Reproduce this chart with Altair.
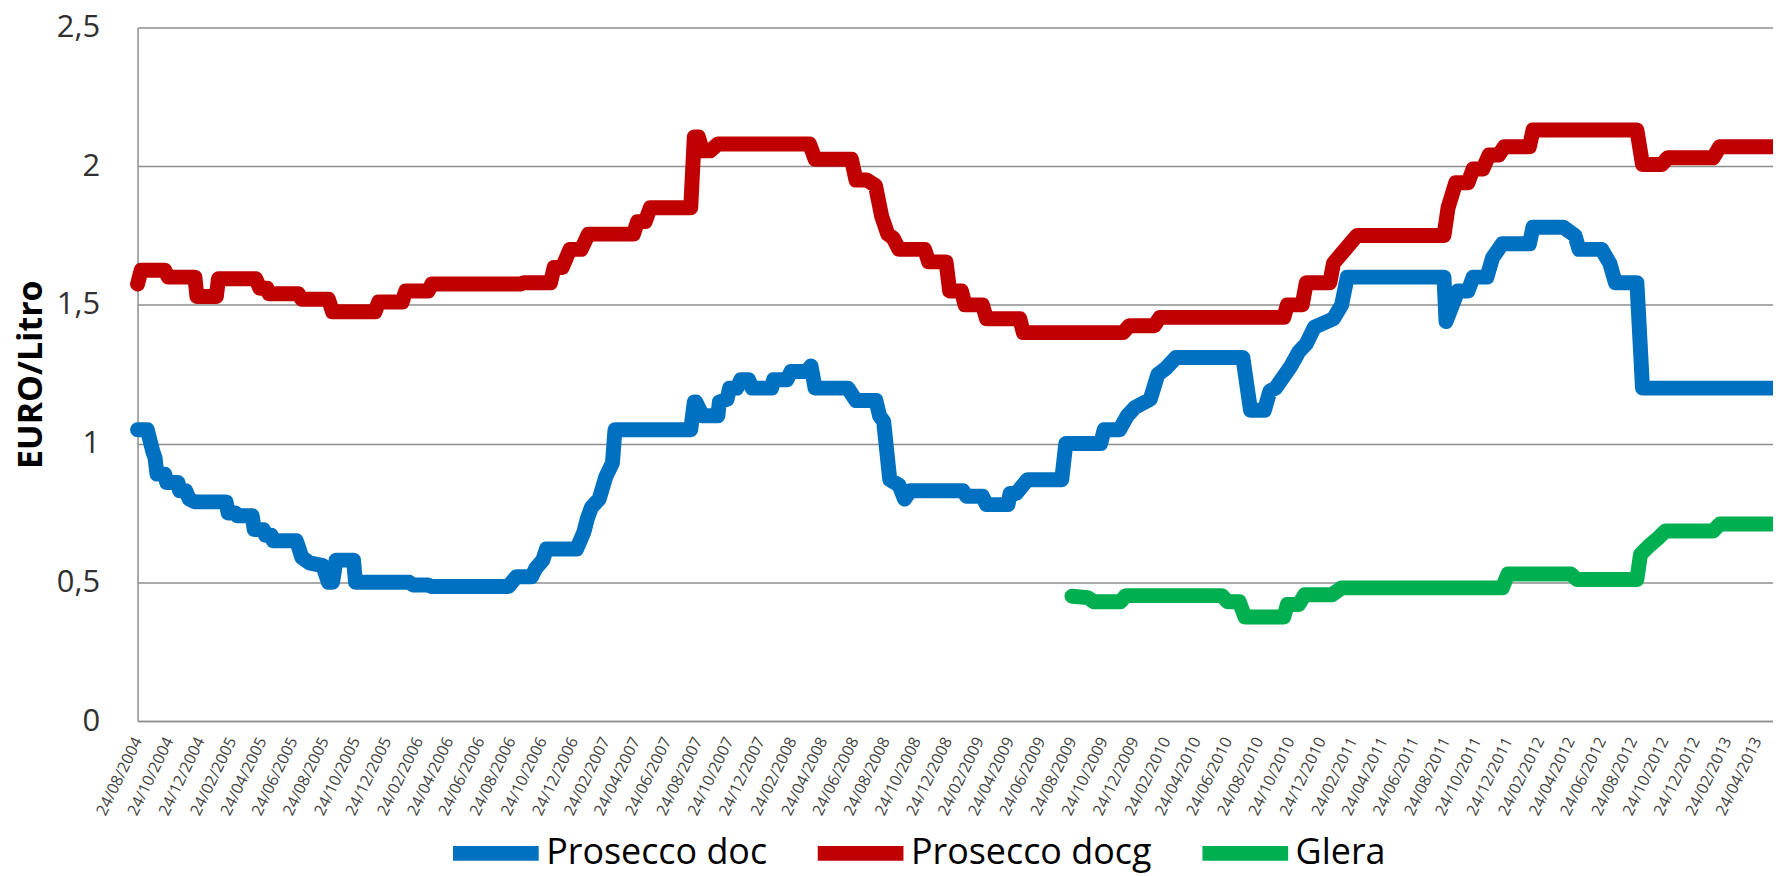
import altair as alt
import pandas as pd

# ---------------- data ----------------
doc_dates = [
    "2004-08-24", "2004-09-12", "2004-09-23", "2004-09-27", "2004-10-01", "2004-10-16", "2004-10-20",
    "2004-11-11", "2004-11-14", "2004-11-26", "2004-12-03", "2004-12-14", "2005-02-13", "2005-02-17",
    "2005-03-03", "2005-03-07", "2005-04-05", "2005-04-09", "2005-04-27", "2005-05-01", "2005-05-12",
    "2005-05-16", "2005-06-30", "2005-07-04", "2005-07-11", "2005-07-26", "2005-08-21", "2005-09-01",
    "2005-09-09", "2005-09-16", "2005-10-20", "2005-10-24", "2006-02-06", "2006-02-14", "2006-03-15",
    "2006-03-22", "2006-08-19", "2006-09-03", "2006-10-03", "2006-10-11", "2006-10-25", "2006-11-01",
    "2006-12-30", "2007-01-13", "2007-01-20", "2007-01-28", "2007-02-12", "2007-02-25", "2007-03-10",
    "2007-03-15", "2007-08-10", "2007-08-17", "2007-08-20", "2007-09-02", "2007-10-02", "2007-10-05",
    "2007-10-20", "2007-10-25", "2007-11-08", "2007-11-16", "2007-12-01", "2007-12-08", "2008-01-15",
    "2008-01-19", "2008-02-14", "2008-02-22", "2008-03-23", "2008-04-01", "2008-04-09", "2008-06-12",
    "2008-06-28", "2008-08-06", "2008-08-13", "2008-08-21", "2008-09-02", "2008-09-20", "2008-10-01",
    "2008-10-12", "2009-01-23", "2009-01-30", "2009-03-02", "2009-03-10", "2009-04-21", "2009-04-25",
    "2009-05-07", "2009-05-29", "2009-08-04", "2009-08-12", "2009-10-19", "2009-10-26", "2009-11-25",
    "2009-12-10", "2009-12-25", "2010-01-24", "2010-02-08", "2010-02-23", "2010-03-15", "2010-07-24",
    "2010-08-08", "2010-09-04", "2010-09-15", "2010-09-26", "2010-10-26", "2010-11-10", "2010-11-25",
    "2010-12-11", "2011-01-17", "2011-02-02", "2011-02-13", "2011-08-21", "2011-08-25", "2011-09-17",
    "2011-10-07", "2011-10-17", "2011-11-13", "2011-11-24", "2011-12-13", "2012-02-04", "2012-02-11",
    "2012-04-10", "2012-05-03", "2012-05-11", "2012-06-24", "2012-07-10", "2012-07-21", "2012-09-01",
    "2012-09-12", "2013-05-25",
]
doc_values = [
    1.05, 1.05, 0.97, 0.95, 0.89, 0.89, 0.86,
    0.86, 0.83, 0.83, 0.80, 0.79, 0.79, 0.75,
    0.75, 0.74, 0.74, 0.69, 0.69, 0.67, 0.67,
    0.65, 0.65, 0.63, 0.59, 0.57, 0.56, 0.50,
    0.50, 0.58, 0.58, 0.50, 0.50, 0.49, 0.49,
    0.485, 0.485, 0.52, 0.52, 0.55, 0.58, 0.62,
    0.62, 0.68, 0.73, 0.77, 0.80, 0.88, 0.93,
    1.05, 1.05, 1.15, 1.15, 1.10, 1.10, 1.15,
    1.16, 1.20, 1.20, 1.23, 1.23, 1.20, 1.20,
    1.23, 1.23, 1.26, 1.26, 1.28, 1.20, 1.20,
    1.155, 1.155, 1.10, 1.08, 0.87, 0.85, 0.80,
    0.83, 0.83, 0.81, 0.81, 0.78, 0.78, 0.82,
    0.82, 0.87, 0.87, 1.00, 1.00, 1.05, 1.05,
    1.10, 1.13, 1.16, 1.25, 1.27, 1.31, 1.31,
    1.12, 1.12, 1.19, 1.20, 1.28, 1.33, 1.36,
    1.42, 1.45, 1.50, 1.60, 1.60, 1.44, 1.55,
    1.55, 1.60, 1.60, 1.67, 1.72, 1.72, 1.78,
    1.78, 1.75, 1.70, 1.70, 1.65, 1.58, 1.58,
    1.20, 1.20,
]

docg_dates = [
    "2004-08-24", "2004-08-31", "2004-10-16", "2004-10-23", "2004-12-14", "2004-12-18", "2005-01-25",
    "2005-01-29", "2005-04-12", "2005-04-20", "2005-05-04", "2005-05-08", "2005-07-04", "2005-07-11",
    "2005-09-01", "2005-09-09", "2005-12-01", "2005-12-08", "2006-01-23", "2006-01-30", "2006-03-15",
    "2006-03-22", "2006-09-11", "2006-09-18", "2006-11-09", "2006-11-16", "2006-12-02", "2006-12-17",
    "2007-01-08", "2007-01-22", "2007-04-20", "2007-04-28", "2007-05-13", "2007-05-23", "2007-08-10",
    "2007-08-17", "2007-08-25", "2007-09-02", "2007-09-17", "2007-10-02", "2008-03-29", "2008-04-09",
    "2008-06-19", "2008-06-28", "2008-07-19", "2008-08-05", "2008-08-17", "2008-08-29", "2008-09-09",
    "2008-09-20", "2008-11-09", "2008-11-17", "2008-12-21", "2008-12-28", "2009-01-20", "2009-01-27",
    "2009-03-02", "2009-03-10", "2009-05-14", "2009-05-21", "2009-12-02", "2009-12-14", "2010-02-01",
    "2010-02-12", "2010-10-12", "2010-10-19", "2010-11-17", "2010-11-25", "2011-01-10", "2011-01-17",
    "2011-02-09", "2011-03-04", "2011-08-21", "2011-08-29", "2011-09-13", "2011-10-07", "2011-10-17",
    "2011-11-05", "2011-11-17", "2011-12-06", "2011-12-17", "2012-02-04", "2012-02-11", "2012-09-01",
    "2012-09-12", "2012-10-20", "2012-10-31", "2013-01-28", "2013-02-10", "2013-05-25",
]
docg_values = [
    1.575, 1.625, 1.625, 1.60, 1.60, 1.53, 1.53,
    1.594, 1.594, 1.56, 1.56, 1.54, 1.54, 1.52,
    1.52, 1.475, 1.475, 1.51, 1.51, 1.55, 1.55,
    1.575, 1.575, 1.58, 1.58, 1.635, 1.635, 1.70,
    1.70, 1.755, 1.755, 1.80, 1.80, 1.85, 1.85,
    2.105, 2.105, 2.055, 2.055, 2.08, 2.08, 2.025,
    2.025, 1.95, 1.95, 1.93, 1.82, 1.755, 1.74,
    1.70, 1.70, 1.655, 1.655, 1.55, 1.55, 1.50,
    1.50, 1.45, 1.45, 1.40, 1.40, 1.425, 1.425,
    1.455, 1.455, 1.50, 1.50, 1.58, 1.58, 1.65,
    1.70, 1.75, 1.75, 1.85, 1.94, 1.94, 1.99,
    1.99, 2.04, 2.04, 2.07, 2.07, 2.13, 2.13,
    2.006, 2.006, 2.03, 2.03, 2.07, 2.07,
]

glera_dates = [
    "2009-08-24", "2009-09-24", "2009-10-06", "2009-11-27", "2009-12-07", "2010-06-13", "2010-06-24",
    "2010-07-17", "2010-07-28", "2010-10-12", "2010-10-19", "2010-11-10", "2010-11-22", "2011-01-14",
    "2011-02-02", "2011-12-13", "2011-12-24", "2012-04-25", "2012-05-07", "2012-09-01", "2012-09-08",
    "2012-09-24", "2012-10-13", "2012-10-27", "2013-01-28", "2013-02-10", "2013-05-25",
]
glera_values = [
    0.45, 0.445, 0.43, 0.43, 0.452, 0.452, 0.43,
    0.43, 0.375, 0.375, 0.42, 0.42, 0.455, 0.455,
    0.48, 0.48, 0.53, 0.53, 0.51, 0.51, 0.60,
    0.63, 0.66, 0.685, 0.685, 0.71, 0.71,
]

series_names = ["Prosecco doc", "Prosecco docg", "Glera"]
series_colors = ["#0070C0", "#C00000", "#00B050"]

tick_dates = [
    "2004-08-24", "2004-10-24", "2004-12-24",
    "2005-02-24", "2005-04-24", "2005-06-24", "2005-08-24", "2005-10-24", "2005-12-24",
    "2006-02-24", "2006-04-24", "2006-06-24", "2006-08-24", "2006-10-24", "2006-12-24",
    "2007-02-24", "2007-04-24", "2007-06-24", "2007-08-24", "2007-10-24", "2007-12-24",
    "2008-02-24", "2008-04-24", "2008-06-24", "2008-08-24", "2008-10-24", "2008-12-24",
    "2009-02-24", "2009-04-24", "2009-06-24", "2009-08-24", "2009-10-24", "2009-12-24",
    "2010-02-24", "2010-04-24", "2010-06-24", "2010-08-24", "2010-10-24", "2010-12-24",
    "2011-02-24", "2011-04-24", "2011-06-24", "2011-08-24", "2011-10-24", "2011-12-24",
    "2012-02-24", "2012-04-24", "2012-06-24", "2012-08-24", "2012-10-24", "2012-12-24",
    "2013-02-24", "2013-04-24",
]
x_start = "2004-08-24"
x_end = "2013-05-25"
y_ticks = [0, 0.5, 1, 1.5, 2, 2.5]

# ---------------- build table ----------------
frames = []
for name, d, v in zip(series_names, [doc_dates, docg_dates, glera_dates],
                      [doc_values, docg_values, glera_values]):
    frames.append(pd.DataFrame({"date": d, "value": v, "series": name}))
df = pd.concat(frames, ignore_index=True)


def dt(s):
    return alt.DateTime(year=int(s[:4]), month=int(s[5:7]), date=int(s[8:10]), utc=True)


FONT = "Open Sans"
GRID = "#8e8e8e"
LINE_W = 15
SYM = 86

x_enc = alt.X(
    "date:T",
    scale=alt.Scale(type="utc", domain=[dt(x_start), dt(x_end)], nice=False),
    axis=alt.Axis(
        values=[dt(s) for s in tick_dates],
        labelExpr="utcFormat(datum.value, '%d/%m/%Y')",
        labelAngle=296,
        labelAlign="right",
        labelBaseline="middle",
        labelFont=FONT,
        labelFontSize=16,
        labelColor="#404040",
        labelPadding=17,
        labelOverlap=False,
        labelBound=False,
        labelFlush=False,
        ticks=False,
        grid=False,
        domainColor=GRID,
        domainWidth=1.5,
        title=None,
    ),
)

y_enc = alt.Y(
    "value:Q",
    scale=alt.Scale(domain=[0, 2.5], nice=False, zero=True),
    axis=alt.Axis(
        values=y_ticks,
        labelExpr="replace(toString(datum.value), '.', ',')",
        labelFont=FONT,
        labelFontSize=31,
        labelColor="#303030",
        labelPadding=38,
        ticks=False,
        grid=True,
        gridColor=GRID,
        gridWidth=1.5,
        domainColor=GRID,
        domainWidth=1.5,
        title="EURO/Litro",
        titleFont=FONT,
        titleFontSize=34,
        titleFontWeight="bold",
        titleColor="black",
        titleAngle=270,
        titleX=-106,
        titleY=348,
        titleAlign="center",
        titleBaseline="middle",
    ),
)

color_enc = alt.Color(
    "series:N",
    scale=alt.Scale(domain=series_names, range=series_colors),
    legend=alt.Legend(
        orient="none",
        legendX=309,
        legendY=778,
        direction="horizontal",
        title=None,
        labelFont=FONT,
        labelFontSize=36,
        labelColor="black",
        labelLimit=600,
        symbolType="stroke",
        symbolSize=SYM * SYM,
        symbolStrokeWidth=LINE_W,
        labelOffset=0,
        columnPadding=20,
    ),
    sort=series_names,
)

layers = []
for name in series_names:
    layers.append(
        alt.Chart(df)
        .transform_filter(alt.datum.series == name)
        .mark_line(strokeWidth=LINE_W, strokeCap="round", strokeJoin="round")
        .encode(x=x_enc, y=y_enc, color=color_enc)
    )

chart = (
    alt.layer(*layers)
    .properties(
        width=1641,
        height=696,
        autosize=alt.AutoSizeParams(type="none"),
        padding={"left": 130, "top": 18, "right": 0, "bottom": 154},
        background="white",
    )
    .configure_view(strokeWidth=0)
)

chart.save("out.html", embed_options={"renderer": "svg", "actions": False})
